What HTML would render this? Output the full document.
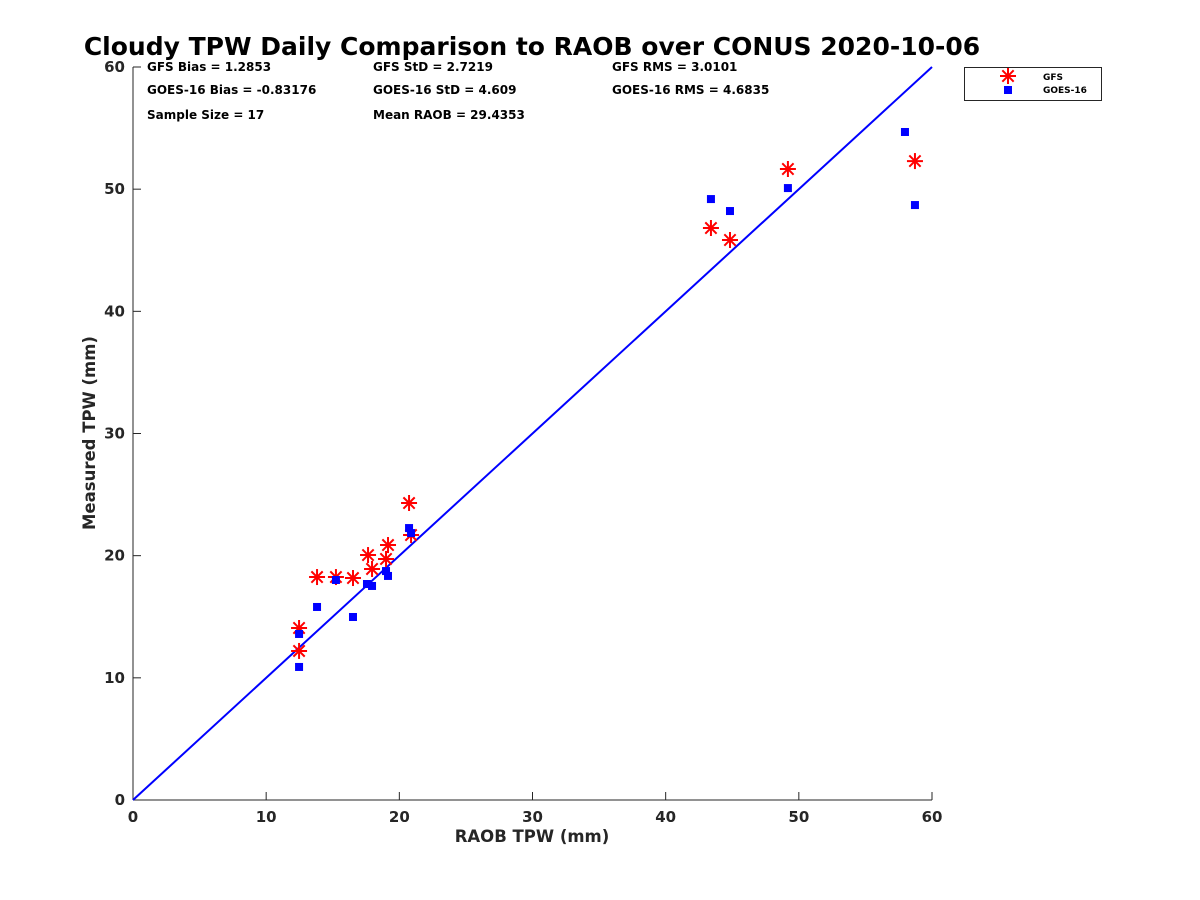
<!DOCTYPE html>
<html><head><meta charset="utf-8"><style>
html,body{margin:0;padding:0;background:#fff;}
svg{display:block;font-family:"DejaVu Sans","Liberation Sans",sans-serif;}
</style></head><body>
<svg id="chart" width="1200" height="900"></svg>
<script>
const xTicks=[0,10,20,30,40,50,60];
const yTicks=[0,10,20,30,40,50,60];
const gfsX=[12.47,12.47,13.82,15.24,16.52,17.65,17.95,19.00,19.15,20.73,20.88,43.40,44.83,49.18,58.72];
const gfsY=[14.08,12.20,18.25,18.25,18.17,20.05,18.91,19.73,20.87,24.31,21.69,46.82,45.84,51.65,52.30];
const goesX=[12.47,12.47,13.82,15.24,16.52,17.57,17.95,19.00,19.15,20.73,20.88,43.40,44.83,49.18,57.97,58.72];
const goesY=[13.59,10.89,15.80,18.01,14.98,17.68,17.52,18.74,18.34,22.26,21.85,49.19,48.21,50.09,54.68,48.70];
const stats=[["GFS Bias = 1.2853",147,71],["GFS StD = 2.7219",373,71],["GFS RMS = 3.0101",612,71],
["GOES-16 Bias = -0.83176",147,94],["GOES-16 StD = 4.609",373,94],["GOES-16 RMS = 4.6835",612,94],
["Sample Size = 17",147,119],["Mean RAOB = 29.4353",373,119]];
const L=133,R=932,T=67,B=800;
const sx=v=>L+(v-0)/60*(R-L);
const sy=v=>B-(v-0)/60*(B-T);
const svg=document.getElementById('chart');
const NS='http://www.w3.org/2000/svg';
function mk(tag,attrs,parent){const e=document.createElementNS(NS,tag);for(const k in attrs)e.setAttribute(k,attrs[k]);(parent||svg).appendChild(e);return e;}
function txt(s,attrs,parent){const e=mk('text',attrs,parent);e.textContent=s;return e;}
let t=txt('Cloudy TPW Daily Comparison to RAOB over CONUS 2020-10-06',{x:532,y:55,'text-anchor':'middle','font-size':25,'font-weight':'bold',fill:'#000'});


const ax=mk('g',{});


mk('line',{x1:L,y1:B,x2:R,y2:B,stroke:'#262626','stroke-width':1},ax);
mk('line',{x1:L,y1:B,x2:L,y2:T,stroke:'#262626','stroke-width':1},ax);
xTicks.forEach(v=>{mk('line',{x1:sx(v),y1:B,x2:sx(v),y2:B-8,stroke:'#262626'},ax);
 const e=txt(String(v),{x:sx(v),y:B+22,'text-anchor':'middle','font-size':15,'font-weight':'bold',fill:'#262626'},ax);
 
 });
yTicks.forEach(v=>{mk('line',{x1:L,y1:sy(v),x2:L+8,y2:sy(v),stroke:'#262626'},ax);
 const e=txt(String(v),{x:L-8,y:sy(v)+5,'text-anchor':'end','font-size':15,'font-weight':'bold',fill:'#262626'},ax);
 
 });
t=txt('RAOB TPW (mm)',{x:532,y:842,'text-anchor':'middle','font-size':16.5,'font-weight':'bold',fill:'#262626'});


t=txt('Measured TPW (mm)',{x:0,y:0,transform:'translate(95,433) rotate(-90)','text-anchor':'middle','font-size':16.5,'font-weight':'bold',fill:'#262626'});


const ref=mk('line',{x1:sx(0),y1:sy(0),x2:sx(60),y2:sy(60),stroke:'#0000ff','stroke-width':2});


stats.forEach(s=>{const e=txt(s[0],{x:s[1],y:s[2],'font-size':12,'font-weight':'bold',fill:'#000'});
 
 });
function star(cx,cy,g){const r=8;for(let i=0;i<4;i++){const a=i*Math.PI/4;mk('line',{x1:cx-r*Math.cos(a),y1:cy-r*Math.sin(a),x2:cx+r*Math.cos(a),y2:cy+r*Math.sin(a),stroke:'#ff0000','stroke-width':2},g);}}
const gg=mk('g',{});


gfsX.forEach((v,i)=>{const g=mk('g',{},gg);
 
 
 star(sx(v),sy(gfsY[i]),g);});
const gb=mk('g',{});


goesX.forEach((v,i)=>{const r=mk('rect',{x:sx(v)-4,y:sy(goesY[i])-4,width:8,height:8,fill:'#0000ff'},gb);
 
 });
const lg=mk('g',{});


mk('rect',{x:964.5,y:67.5,width:137,height:33,fill:'#fff',stroke:'#262626','stroke-width':1},lg);
const le1=mk('g',{},lg);


star(1008,76,le1);
txt('GFS',{x:1043,y:80,'font-size':9,'font-weight':'bold',fill:'#000'},le1);
const le2=mk('g',{},lg);


mk('rect',{x:1004,y:86,width:8,height:8,fill:'#0000ff'},le2);
txt('GOES-16',{x:1043,y:93,'font-size':9,'font-weight':'bold',fill:'#000'},le2);
</script>
</body></html>
